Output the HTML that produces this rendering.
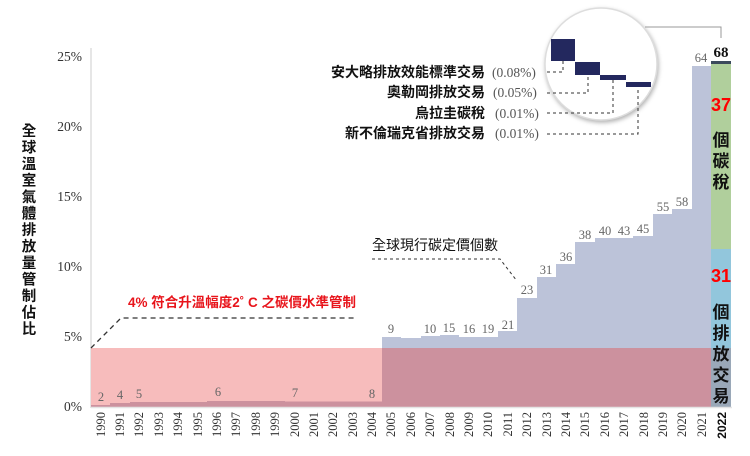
<!DOCTYPE html>
<html><head><meta charset="utf-8"><style>
body{margin:0;background:#fff;}
svg{display:block;}
.t{font-family:"Liberation Serif",serif;font-size:12.5px;fill:#666;}
.k{font-family:"Liberation Sans","Noto Sans CJK TC",sans-serif;font-weight:bold;}
</style></head><body>
<svg width="750" height="456" viewBox="0 0 750 456" xmlns="http://www.w3.org/2000/svg">
<line x1="91" y1="48" x2="91" y2="408" stroke="#ddd" stroke-width="1.5"/>
<g font-family="Liberation Serif,serif" font-size="13.5" fill="#333" text-anchor="end">
<text x="82" y="61">25%</text><text x="82" y="131">20%</text><text x="82" y="201">15%</text>
<text x="82" y="271">10%</text><text x="82" y="341">5%</text><text x="82" y="411">0%</text>
</g>
<g class="k" font-size="14.5" fill="#111" text-anchor="middle">
<text x="29" y="136">全</text><text x="29" y="152.5">球</text><text x="29" y="169">溫</text><text x="29" y="185.5">室</text><text x="29" y="202">氣</text><text x="29" y="218.5">體</text><text x="29" y="235">排</text><text x="29" y="251.5">放</text><text x="29" y="268">量</text><text x="29" y="284.5">管</text><text x="29" y="301">制</text><text x="29" y="317.5">佔</text><text x="29" y="334">比</text>
</g>
<rect x="91" y="348" width="291" height="59" fill="#f7bcbc"/>
<path fill="#bcc3d9" d="M382 407 L382 337 L401 337 L401 338 L421 338 L421 336 L440 336 L440 335 L459 335 L459 337 L498 337 L498 331 L517 331 L517 298 L537 298 L537 277 L556 277 L556 264 L575 264 L575 242 L595 242 L595 238 L614 238 L614 238 L633 238 L633 236 L653 236 L653 214 L672 214 L672 209 L692 209 L692 66 L711 66 L711 407 Z"/>
<path fill="#cc919e" d="M382 348 L711 348 L711 407 L382 407 Z"/>
<path fill="#cc919e" d="M91 407 L91 405 L110 405 L110 403 L130 403 L130 402 L207 402 L207 401 L285 401 L285 401.5 L382 401.5 L382 407 Z"/>
<rect x="711" y="61" width="20" height="3" fill="#3c4a5c"/>
<rect x="711" y="64" width="20" height="185" fill="#b0cf9c"/>
<rect x="711" y="249" width="20" height="99" fill="#92c6dc"/>
<rect x="711" y="348" width="20" height="59" fill="#9aa8b8"/>
<line x1="91" y1="407.5" x2="732" y2="407.5" stroke="#e4e4e4" stroke-width="1.5"/>
<g class="t" text-anchor="middle">
<text x="101" y="401">2</text><text x="120" y="399">4</text><text x="139" y="398">5</text>
<text x="218" y="396">6</text><text x="295" y="397">7</text><text x="372" y="398">8</text>
<text x="391" y="333">9</text><text x="430" y="333">10</text><text x="449" y="332">15</text><text x="469" y="333">16</text><text x="488" y="333">19</text><text x="508" y="329">21</text>
<text x="527" y="294">23</text><text x="546" y="274">31</text><text x="566" y="261">36</text><text x="585" y="239">38</text><text x="605" y="235">40</text><text x="624" y="235">43</text><text x="643" y="233">45</text><text x="663" y="211">55</text><text x="682" y="206">58</text><text x="701" y="62">64</text>
</g>
<text x="721" y="57" font-family="Liberation Serif,serif" font-size="15" font-weight="bold" fill="#111" text-anchor="middle">68</text>
<g class="k" text-anchor="middle">
<text x="721" y="111" font-size="18" fill="#f00">37</text>
<text x="721" y="146" font-size="17" fill="#111">個</text><text x="721" y="167" font-size="17" fill="#111">碳</text><text x="721" y="188" font-size="17" fill="#111">稅</text>
<text x="721" y="282" font-size="18" fill="#f00">31</text>
<text x="721" y="318" font-size="17" fill="#111">個</text><text x="721" y="339" font-size="17" fill="#111">排</text><text x="721" y="360" font-size="17" fill="#111">放</text><text x="721" y="381" font-size="17" fill="#111">交</text><text x="721" y="402" font-size="17" fill="#111">易</text>
</g>
<g font-family="Liberation Serif,serif" font-size="12.5" fill="#333" text-anchor="end">
<text transform="translate(105,412) rotate(-90)">1990</text>
<text transform="translate(124,412) rotate(-90)">1991</text>
<text transform="translate(143,412) rotate(-90)">1992</text>
<text transform="translate(163,412) rotate(-90)">1993</text>
<text transform="translate(182,412) rotate(-90)">1994</text>
<text transform="translate(202,412) rotate(-90)">1995</text>
<text transform="translate(221,412) rotate(-90)">1996</text>
<text transform="translate(240,412) rotate(-90)">1997</text>
<text transform="translate(260,412) rotate(-90)">1998</text>
<text transform="translate(279,412) rotate(-90)">1999</text>
<text transform="translate(299,412) rotate(-90)">2000</text>
<text transform="translate(318,412) rotate(-90)">2001</text>
<text transform="translate(337,412) rotate(-90)">2002</text>
<text transform="translate(357,412) rotate(-90)">2003</text>
<text transform="translate(376,412) rotate(-90)">2004</text>
<text transform="translate(395,412) rotate(-90)">2005</text>
<text transform="translate(415,412) rotate(-90)">2006</text>
<text transform="translate(434,412) rotate(-90)">2007</text>
<text transform="translate(454,412) rotate(-90)">2008</text>
<text transform="translate(473,412) rotate(-90)">2009</text>
<text transform="translate(492,412) rotate(-90)">2010</text>
<text transform="translate(512,412) rotate(-90)">2011</text>
<text transform="translate(531,412) rotate(-90)">2012</text>
<text transform="translate(551,412) rotate(-90)">2013</text>
<text transform="translate(570,412) rotate(-90)">2014</text>
<text transform="translate(589,412) rotate(-90)">2015</text>
<text transform="translate(609,412) rotate(-90)">2016</text>
<text transform="translate(628,412) rotate(-90)">2017</text>
<text transform="translate(648,412) rotate(-90)">2018</text>
<text transform="translate(667,412) rotate(-90)">2019</text>
<text transform="translate(686,412) rotate(-90)">2020</text>
<text transform="translate(706,412) rotate(-90)">2021</text>
<text transform="translate(726,412) rotate(-90)" font-weight="bold" font-family="Liberation Sans,sans-serif" font-size="12" fill="#111">2022</text>
</g>
<path d="M91 348 L121 318 L357 318" fill="none" stroke="#333" stroke-width="1.3" stroke-dasharray="5,4"/>
<text x="128" y="307" class="k" font-size="13.5" fill="#e8141b">4% 符合升溫幅度2˚ C 之碳價水準管制</text>
<text x="372" y="250" font-family="Liberation Sans,'Noto Sans CJK TC',sans-serif" font-size="14" fill="#111">全球現行碳定價個數</text>
<path d="M372 259 L500 259 L517 281" fill="none" stroke="#333" stroke-width="1" stroke-dasharray="3,3"/>
<circle cx="601" cy="64" r="56" fill="#fff" stroke="#ddd" stroke-width="1.5" style="filter:drop-shadow(1px 2px 2px rgba(0,0,0,0.3))"/>
<rect x="551" y="39" width="24" height="22" fill="#23285e"/>
<rect x="575" y="62" width="25" height="13" fill="#23285e"/>
<rect x="600" y="75" width="26" height="5" fill="#23285e"/>
<rect x="626" y="82" width="25" height="5" fill="#23285e"/>
<path d="M645 27 L721 27 L721 38" fill="none" stroke="#999" stroke-width="1"/>
<g fill="none" stroke="#333" stroke-width="1" stroke-dasharray="3,3">
<path d="M547 72 L563 72 L563 61"/>
<path d="M547 93 L588 93 L588 75"/>
<path d="M547 113 L613 113 L613 80"/>
<path d="M547 134 L638 134 L638 87"/>
</g>
<g class="k" font-size="14" fill="#111" text-anchor="end">
<text x="485" y="77">安大略排放效能標準交易</text>
<text x="485" y="97">奧勒岡排放交易</text>
<text x="485" y="118">烏拉圭碳稅</text>
<text x="485" y="138">新不倫瑞克省排放交易</text>
</g>
<g font-family="Liberation Serif,serif" font-size="13.5" fill="#555">
<text x="492" y="77">(0.08%)</text>
<text x="493" y="97">(0.05%)</text>
<text x="495" y="118">(0.01%)</text>
<text x="495" y="138">(0.01%)</text>
</g>
</svg>
</body></html>
